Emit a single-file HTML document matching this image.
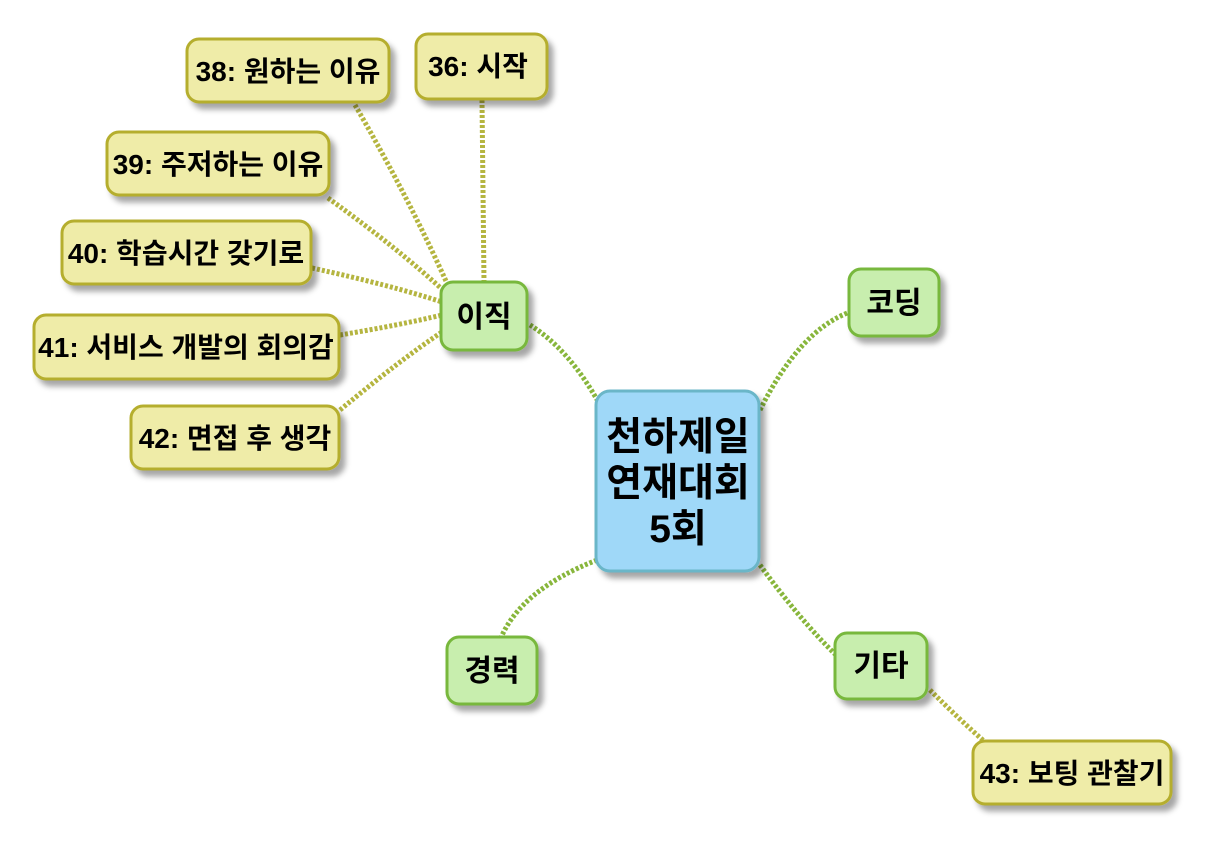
<!DOCTYPE html>
<html><head><meta charset="utf-8"><style>
body{margin:0;background:#fff;}
svg text{font-family:"Liberation Sans","Noto Sans CJK KR",sans-serif;font-weight:bold;fill:#000;}
</style></head><body>
<svg width="1220" height="840" viewBox="0 0 1220 840" xmlns="http://www.w3.org/2000/svg">
<defs>
<filter id="sh" x="-20%" y="-20%" width="150%" height="160%">
<feDropShadow dx="5" dy="6" stdDeviation="3" flood-color="#000" flood-opacity="0.35"/>
</filter>
</defs>
<g fill="none" stroke-width="5" stroke-dasharray="3 2">
<g stroke="#b5b540">
<path d="M355 105 Q410 200 450 290"/>
<path d="M482 100 L484 282"/>
<path d="M328 198 Q400 250 445 292"/>
<path d="M312 268 Q390 285 442 302"/>
<path d="M340 335 Q400 325 442 315"/>
<path d="M340 410 Q400 360 442 332"/>
<path d="M930 690 Q960 720 985 742"/>
</g>
<g stroke="#88b63c">
<path d="M530 325 Q570 350 600 405"/>
<path d="M760 410 Q800 330 850 312"/>
<path d="M597 560 Q520 590 500 640"/>
<path d="M760 565 Q800 620 836 655"/>
</g>
</g>
<g filter="url(#sh)" stroke-width="3">
<rect x="187" y="39" width="202" height="63" rx="12" fill="#efeca8" stroke="#b5ae2e"/>
<rect x="416" y="34" width="131" height="65" rx="12" fill="#efeca8" stroke="#b5ae2e"/>
<rect x="107" y="132" width="222" height="63" rx="12" fill="#efeca8" stroke="#b5ae2e"/>
<rect x="62" y="221" width="249" height="63" rx="12" fill="#efeca8" stroke="#b5ae2e"/>
<rect x="34" y="315" width="305" height="64" rx="12" fill="#efeca8" stroke="#b5ae2e"/>
<rect x="131" y="406" width="208" height="63" rx="12" fill="#efeca8" stroke="#b5ae2e"/>
<rect x="973" y="741" width="198" height="63" rx="12" fill="#efeca8" stroke="#b5ae2e"/>
<rect x="441" y="282" width="86" height="68" rx="12" fill="#c8eeae" stroke="#78b83e"/>
<rect x="849" y="269" width="90" height="67" rx="12" fill="#c8eeae" stroke="#78b83e"/>
<rect x="447" y="637" width="90" height="67" rx="12" fill="#c8eeae" stroke="#78b83e"/>
<rect x="835" y="633" width="92" height="66" rx="12" fill="#c8eeae" stroke="#78b83e"/>
<rect x="596" y="391" width="163" height="180" rx="14" fill="#9fd8f8" stroke="#6ab6c8"/>
</g>
<g font-size="28" text-anchor="middle">
<text x="288" y="81">38: 원하는 이유</text>
<text x="478" y="76">36: 시작</text>
<text x="218" y="174">39: 주저하는 이유</text>
<text x="186" y="263">40: 학습시간 갖기로</text>
<text x="186" y="357">41: 서비스 개발의 회의감</text>
<text x="235" y="448">42: 면접 후 생각</text>
<text x="1072" y="783">43: 보팅 관찰기</text>
</g>
<g font-size="30" text-anchor="middle">
<text x="484" y="327">이직</text>
<text x="894" y="313">코딩</text>
<text x="492" y="681">경력</text>
<text x="881" y="676">기타</text>
</g>
<g font-size="39" text-anchor="middle">
<text x="678" y="450">천하제일</text>
<text x="678" y="496">연재대회</text>
<text x="678" y="542">5회</text>
</g>
</svg>
</body></html>
